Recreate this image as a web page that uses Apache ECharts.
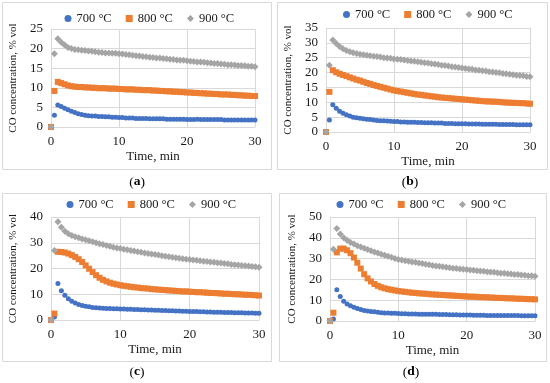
<!DOCTYPE html>
<html>
<head>
<meta charset="utf-8">
<script src="https://cdn.jsdelivr.net/npm/echarts@6/dist/echarts.min.js"></script>
<style>html,body{margin:0;padding:0;background:#fff;}#c{width:550px;height:383px;}</style>
</head>
<body>
<div id="c"></div>
<script>
const seriesNames = ['700 °C', '800 °C', '900 °C'];
const captions = ['a', 'b', 'c', 'd'];
const xTicks = [0, 10, 20, 30];
const yMax = [25, 35, 40, 50];
const yStep = [5, 5, 10, 10];
const times = [0, 0.5, 1, 1.5, 2, 2.5, 3, 3.5, 4, 4.5, 5, 5.5, 6, 6.5, 7, 7.5, 8, 8.5, 9, 9.5, 10,
  10.5, 11, 11.5, 12, 12.5, 13, 13.5, 14, 14.5, 15, 15.5, 16, 16.5, 17, 17.5, 18, 18.5, 19, 19.5, 20,
  20.5, 21, 21.5, 22, 22.5, 23, 23.5, 24, 24.5, 25, 25.5, 26, 26.5, 27, 27.5, 28, 28.5, 29, 29.5, 30];

const a700 = [0, 3.0, 5.6, 5.2, 4.8, 4.4, 4.0, 3.7, 3.4, 3.2, 3.0, 2.9, 2.8, 2.8, 2.7, 2.7, 2.6, 2.6, 2.5, 2.5, 2.4,
  2.4, 2.3, 2.3, 2.3, 2.2, 2.2, 2.2, 2.2, 2.1, 2.1, 2.1, 2.1, 2.1, 2.0, 2.0, 2.0, 2.0, 2.0, 2.0, 1.9,
  1.9, 1.9, 2.0, 1.9, 1.9, 1.9, 1.9, 1.9, 1.9, 1.9, 1.8, 1.8, 1.8, 1.8, 1.8, 1.8, 1.8, 1.8, 1.8, 1.8];
const a800 = [0, 9.2, 11.5, 11.2, 10.9, 10.6, 10.4, 10.3, 10.2, 10.2, 10.1, 10.1, 10.0, 10.0, 9.9, 9.9, 9.9, 9.8, 9.8, 9.8, 9.7,
  9.7, 9.6, 9.6, 9.6, 9.5, 9.5, 9.4, 9.4, 9.4, 9.3, 9.3, 9.2, 9.2, 9.1, 9.1, 9.0, 9.0, 8.9, 8.9, 8.8,
  8.8, 8.7, 8.7, 8.6, 8.6, 8.5, 8.5, 8.4, 8.4, 8.3, 8.3, 8.3, 8.2, 8.2, 8.1, 8.1, 8.0, 8.0, 7.9, 7.9];
const a900 = [0, 18.7, 22.5, 21.6, 20.9, 20.3, 20.0, 19.8, 19.7, 19.6, 19.5, 19.4, 19.3, 19.2, 19.1, 19.0, 18.9, 18.9, 18.8, 18.8, 18.7,
  18.6, 18.5, 18.4, 18.3, 18.2, 18.1, 18.0, 17.9, 17.8, 17.7, 17.6, 17.6, 17.5, 17.4, 17.3, 17.2, 17.1, 17.0, 17.0, 16.9,
  16.8, 16.7, 16.6, 16.6, 16.5, 16.4, 16.3, 16.2, 16.2, 16.1, 16.0, 15.9, 15.9, 15.8, 15.7, 15.7, 15.6, 15.5, 15.5, 15.4];

const b700 = [0, 4.0, 9.2, 8.0, 7.0, 6.3, 5.8, 5.4, 5.0, 4.8, 4.6, 4.5, 4.3, 4.2, 4.0, 3.9, 3.8, 3.8, 3.7, 3.6, 3.5,
  3.5, 3.4, 3.4, 3.3, 3.3, 3.3, 3.2, 3.2, 3.1, 3.1, 3.1, 3.0, 3.0, 3.0, 2.9, 2.9, 2.9, 2.8, 2.8, 2.8,
  2.8, 2.7, 2.7, 2.7, 2.7, 2.6, 2.6, 2.6, 2.6, 2.6, 2.5, 2.5, 2.5, 2.5, 2.5, 2.4, 2.4, 2.4, 2.4, 2.4];
const b800 = [0, 13.5, 20.8, 20.1, 19.6, 19.2, 18.8, 18.4, 18.0, 17.6, 17.3, 16.9, 16.5, 16.2, 15.8, 15.5, 15.2, 14.9, 14.6, 14.3, 14.0,
  13.8, 13.6, 13.4, 13.2, 13.0, 12.8, 12.6, 12.5, 12.3, 12.2, 12.0, 11.9, 11.7, 11.6, 11.5, 11.4, 11.3, 11.2, 11.1, 11.0,
  10.9, 10.8, 10.7, 10.6, 10.5, 10.4, 10.3, 10.3, 10.2, 10.2, 10.1, 10.0, 9.9, 9.9, 9.8, 9.8, 9.7, 9.7, 9.6, 9.5];
const b900 = [0, 22.5, 31.0, 29.8, 28.8, 28.0, 27.4, 27.0, 26.7, 26.4, 26.2, 26.0, 25.8, 25.7, 25.5, 25.4, 25.2, 25.0, 24.9, 24.8, 24.6,
  24.5, 24.4, 24.2, 24.1, 23.9, 23.8, 23.6, 23.5, 23.3, 23.2, 23.0, 22.9, 22.7, 22.5, 22.4, 22.2, 22.0, 21.9, 21.7, 21.5,
  21.4, 21.2, 21.1, 20.9, 20.8, 20.6, 20.5, 20.3, 20.2, 20.0, 19.9, 19.7, 19.6, 19.4, 19.3, 19.1, 19.0, 18.9, 18.7, 18.6];

const c700 = [0, 1.2, 14.2, 11.4, 9.6, 8.3, 7.3, 6.6, 6.0, 5.6, 5.3, 5.1, 4.9, 4.8, 4.7, 4.6, 4.5, 4.5, 4.4, 4.4, 4.3,
  4.3, 4.2, 4.2, 4.1, 4.1, 4.0, 4.0, 3.9, 3.9, 3.8, 3.8, 3.7, 3.7, 3.6, 3.6, 3.5, 3.5, 3.4, 3.4, 3.3,
  3.3, 3.3, 3.2, 3.2, 3.1, 3.1, 3.0, 3.0, 3.0, 2.9, 2.9, 2.9, 2.8, 2.8, 2.8, 2.7, 2.7, 2.7, 2.6, 2.6];
const c800 = [0, 2.5, 26.5, 26.4, 26.2, 25.8, 25.2, 24.5, 23.6, 22.5, 21.2, 19.9, 18.6, 17.4, 16.4, 15.6, 15.0, 14.5, 14.1, 13.8, 13.5,
  13.3, 13.1, 12.9, 12.7, 12.6, 12.4, 12.3, 12.2, 12.0, 11.9, 11.8, 11.7, 11.6, 11.5, 11.4, 11.3, 11.2, 11.1, 11.1, 11.0,
  10.9, 10.8, 10.8, 10.7, 10.6, 10.5, 10.5, 10.4, 10.3, 10.2, 10.2, 10.1, 10.0, 10.0, 9.9, 9.8, 9.8, 9.7, 9.6, 9.5];
const c900 = [0, 27.0, 38.2, 36.0, 34.5, 33.5, 32.8, 32.3, 31.9, 31.5, 31.2, 30.8, 30.4, 30.0, 29.6, 29.3, 28.9, 28.6, 28.3, 28.0, 27.8,
  27.5, 27.3, 27.0, 26.8, 26.5, 26.3, 26.0, 25.8, 25.6, 25.4, 25.2, 25.0, 24.8, 24.6, 24.4, 24.2, 24.0, 23.8, 23.6, 23.5,
  23.3, 23.2, 23.0, 22.8, 22.7, 22.5, 22.4, 22.2, 22.1, 21.9, 21.8, 21.6, 21.5, 21.4, 21.2, 21.1, 21.0, 20.8, 20.7, 20.5];

const d700 = [0, 1.0, 15.0, 11.8, 9.5, 8.2, 7.3, 6.6, 6.0, 5.5, 5.1, 4.8, 4.6, 4.4, 4.2, 4.0, 3.9, 3.8, 3.7, 3.7, 3.6,
  3.5, 3.5, 3.4, 3.4, 3.4, 3.3, 3.3, 3.3, 3.2, 3.2, 3.2, 3.1, 3.1, 3.1, 3.0, 3.0, 3.0, 2.9, 2.9, 2.9,
  2.9, 2.8, 2.8, 2.8, 2.8, 2.7, 2.7, 2.7, 2.7, 2.7, 2.6, 2.6, 2.6, 2.6, 2.6, 2.5, 2.5, 2.5, 2.5, 2.5];
const d800 = [0, 4.0, 33.0, 34.8, 34.8, 34.0, 32.6, 30.5, 28.0, 25.2, 22.5, 20.5, 19.0, 17.8, 16.9, 16.2, 15.7, 15.3, 15.0, 14.7, 14.4,
  14.2, 14.0, 13.8, 13.6, 13.5, 13.3, 13.2, 13.1, 12.9, 12.8, 12.7, 12.6, 12.5, 12.4, 12.3, 12.2, 12.1, 12.0, 11.9, 11.8,
  11.7, 11.7, 11.6, 11.5, 11.4, 11.4, 11.3, 11.2, 11.1, 11.1, 11.0, 10.9, 10.9, 10.8, 10.7, 10.7, 10.6, 10.5, 10.5, 10.4];
const d900 = [0, 34.5, 44.5, 41.8, 40.0, 38.8, 37.8, 37.0, 36.2, 35.6, 35.0, 34.4, 33.8, 33.2, 32.7, 32.1, 31.6, 31.1, 30.6, 30.1, 29.6,
  29.3, 29.0, 28.7, 28.4, 28.2, 27.9, 27.6, 27.3, 27.0, 26.7, 26.5, 26.3, 26.1, 25.8, 25.6, 25.4, 25.2, 25.0, 24.9, 24.7,
  24.5, 24.4, 24.2, 24.0, 23.9, 23.7, 23.5, 23.4, 23.2, 23.0, 22.9, 22.7, 22.6, 22.4, 22.3, 22.1, 22.0, 21.8, 21.7, 21.5];

const panelData = [[a700, a800, a900], [b700, b800, b900], [c700, c800, c900], [d700, d800, d900]];

// layout (pixels)
const FONT = '"Liberation Serif", "Times New Roman", serif';
const TXT = '#1a1a1a';
const GRIDC = '#d9d9d9';
const colors = ['#4472C4', '#ED7D31', '#A5A5A5'];
const symbols = ['circle', 'rect', 'diamond'];
const symSizes = [5, 6, 7];
const grids = [
  {left: 51, top: 29, width: 204, height: 98},
  {left: 326, top: 28, width: 204, height: 104},
  {left: 51, top: 217, width: 208, height: 103},
  {left: 330, top: 217, width: 205, height: 104}
];
const legendPos = [{left: 64.5, top: 12}, {left: 343, top: 8}, {left: 66.5, top: 198}, {left: 336.5, top: 198}];
const boxes = [[2.5, 2.5, 269, 167], [277.5, 2.5, 270, 167], [2.5, 193.5, 269, 168], [279.5, 193.5, 267, 168]];
const capPos = [[137, 182], [410, 182], [137, 372], [411, 372]];

const option = {
  backgroundColor: '#fff',
  animation: false,
  grid: grids.map(g => Object.assign({containLabel: false}, g)),
  legend: legendPos.map(p => ({
    left: p.left, top: p.top, padding: 0, data: seriesNames, itemWidth: 7, itemHeight: 7, itemGap: 14,
    textStyle: {fontFamily: FONT, fontSize: 12.5, color: TXT}, selectedMode: false
  })),
  xAxis: grids.map((g, i) => ({
    type: 'value', gridIndex: i, min: 0, max: 30, interval: 10,
    name: 'Time, min', nameLocation: 'middle', nameGap: 23,
    nameTextStyle: {fontFamily: FONT, fontSize: 13, color: TXT},
    axisLine: {show: true, lineStyle: {color: GRIDC}},
    axisTick: {show: false},
    axisLabel: {fontFamily: FONT, fontSize: 13, color: TXT, margin: 8},
    splitLine: {show: true, lineStyle: {color: GRIDC, width: 1}}
  })),
  yAxis: grids.map((g, i) => ({
    type: 'value', gridIndex: i, min: 0, max: yMax[i], interval: yStep[i],
    name: 'CO concentration, % vol', nameLocation: 'middle', nameGap: 32,
    nameTextStyle: {fontFamily: FONT, fontSize: 11, color: TXT},
    axisLine: {show: false},
    axisTick: {show: false},
    axisLabel: {fontFamily: FONT, fontSize: 13, color: TXT, margin: 8},
    splitLine: {show: true, lineStyle: {color: GRIDC, width: 1}}
  })),
  series: [],
  graphic: []
};

panelData.forEach((sets, p) => {
  sets.forEach((vals, k) => {
    option.series.push({
      type: 'scatter', name: seriesNames[k], xAxisIndex: p, yAxisIndex: p,
      symbol: symbols[k], symbolSize: symSizes[k],
      itemStyle: {color: colors[k], opacity: 1},
      data: times.map((t, j) => [t, vals[j]])
    });
  });
});

boxes.forEach(b => {
  option.graphic.push({type: 'rect', silent: true, z: -1,
    shape: {x: b[0], y: b[1], width: b[2], height: b[3]},
    style: {fill: 'none', stroke: GRIDC, lineWidth: 1}});
});
capPos.forEach((c, i) => {
  option.graphic.push({type: 'text', x: c[0], y: c[1], silent: true,
    style: {
      text: '(' + '{b|' + captions[i] + '}' + ')',
      align: 'center', verticalAlign: 'middle',
      font: '13.5px ' + FONT, fill: '#000',
      rich: {b: {fontFamily: FONT, fontSize: 13.5, fontWeight: 'bold', fill: '#000'}}
    }});
});

const chart = echarts.init(document.getElementById('c'), null, {renderer: 'canvas'});
chart.setOption(option);
</script>
</body>
</html>
